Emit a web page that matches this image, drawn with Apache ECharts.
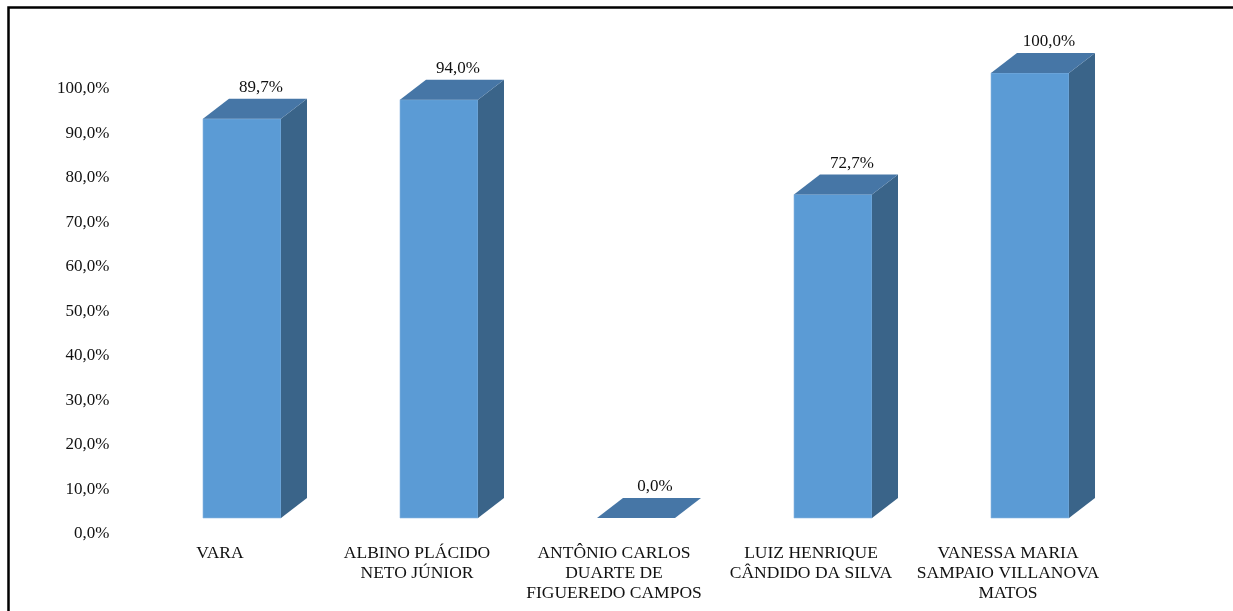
<!DOCTYPE html>
<html>
<head>
<meta charset="utf-8">
<script src="https://cdn.jsdelivr.net/npm/echarts@6/dist/echarts.min.js"></script>
<style>
html,body{margin:0;padding:0;background:#fff;}
#chart{width:1233px;height:611px;}
</style>
</head>
<body>
<div id="chart"></div>
<script>
const categories = [
  'VARA',
  'ALBINO PLÁCIDO\nNETO JÚNIOR',
  'ANTÔNIO CARLOS\nDUARTE DE\nFIGUEREDO CAMPOS',
  'LUIZ HENRIQUE\nCÂNDIDO DA SILVA',
  'VANESSA MARIA\nSAMPAIO VILLANOVA\nMATOS'
];
const values = [89.7, 94.0, 0.0, 72.7, 100.0];
const yTicks = { min: 0, max: 100, interval: 10 };

const fmt = v => v.toFixed(1).replace('.', ',') + '%';
const FRONT = '#5B9BD5', TOP = '#4676A6', SIDE = '#3A6489';
const DX = 26, DY = 20;
const FONT = '"Liberation Serif", "Times New Roman", serif';

const chart = echarts.init(document.getElementById('chart'), null, { renderer: 'canvas' });

function renderItem(params, api) {
  const idx = api.value(0);
  const val = api.value(1);
  const top = api.coord([idx, val]);
  const base = api.coord([idx, 0]);
  const w = api.size([1, 0])[0] * 0.396;
  const x0 = top[0] - w / 2, x1 = top[0] + w / 2;
  const yt = top[1], yb = base[1];
  const children = [];
  if (yb - yt > 0.5) {
    children.push({
      type: 'rect',
      shape: { x: x0, y: yt, width: w, height: yb - yt },
      style: { fill: FRONT, stroke: '#8DB8E2', lineWidth: 0.6 }
    });
    children.push({
      type: 'polygon',
      shape: { points: [[x1, yt], [x1 + DX, yt - DY], [x1 + DX, yb - DY], [x1, yb]] },
      style: { fill: SIDE }
    });
  }
  children.push({
    type: 'polygon',
    shape: { points: [[x0, yt], [x0 + DX, yt - DY], [x1 + DX, yt - DY], [x1, yt]] },
    style: { fill: TOP }
  });
  children.push({
    type: 'text',
    style: {
      text: fmt(val),
      x: top[0] + 19,
      y: yt - DY - 11,
      align: 'center',
      verticalAlign: 'middle',
      font: '17px ' + FONT,
      fill: '#111'
    }
  });
  return { type: 'group', children };
}

chart.setOption({
  animation: false,
  backgroundColor: '#fff',
  graphic: [{
    type: 'rect',
    shape: { x: 8.5, y: 7.5, width: 1300, height: 700 },
    style: { fill: 'none', stroke: '#000', lineWidth: 2.5 },
    z: 100
  }],
  grid: [
    { left: 143.5, right: 104.5, top: 73, bottom: 93 },
    { left: 121.5, right: 126.5, top: 89, bottom: 77 }
  ],
  xAxis: [
    { type: 'category', gridIndex: 0, data: categories, show: false },
    {
      type: 'category', gridIndex: 1, data: categories,
      axisLine: { show: false }, axisTick: { show: false },
      axisLabel: {
        interval: 0, margin: 9, lineHeight: 20,
        fontFamily: FONT, fontSize: 17.5, color: '#111'
      }
    }
  ],
  yAxis: [
    { type: 'value', gridIndex: 0, min: yTicks.min, max: yTicks.max, interval: yTicks.interval, show: false },
    {
      type: 'value', gridIndex: 1, min: yTicks.min, max: yTicks.max, interval: yTicks.interval,
      axisLine: { show: false }, axisTick: { show: false }, splitLine: { show: false },
      axisLabel: {
        margin: 12, fontFamily: FONT, fontSize: 17, color: '#111',
        formatter: v => fmt(v)
      }
    }
  ],
  series: [{
    type: 'custom',
    xAxisIndex: 0, yAxisIndex: 0,
    renderItem: renderItem,
    data: values.map((v, i) => [i, v])
  }]
});
</script>
</body>
</html>
